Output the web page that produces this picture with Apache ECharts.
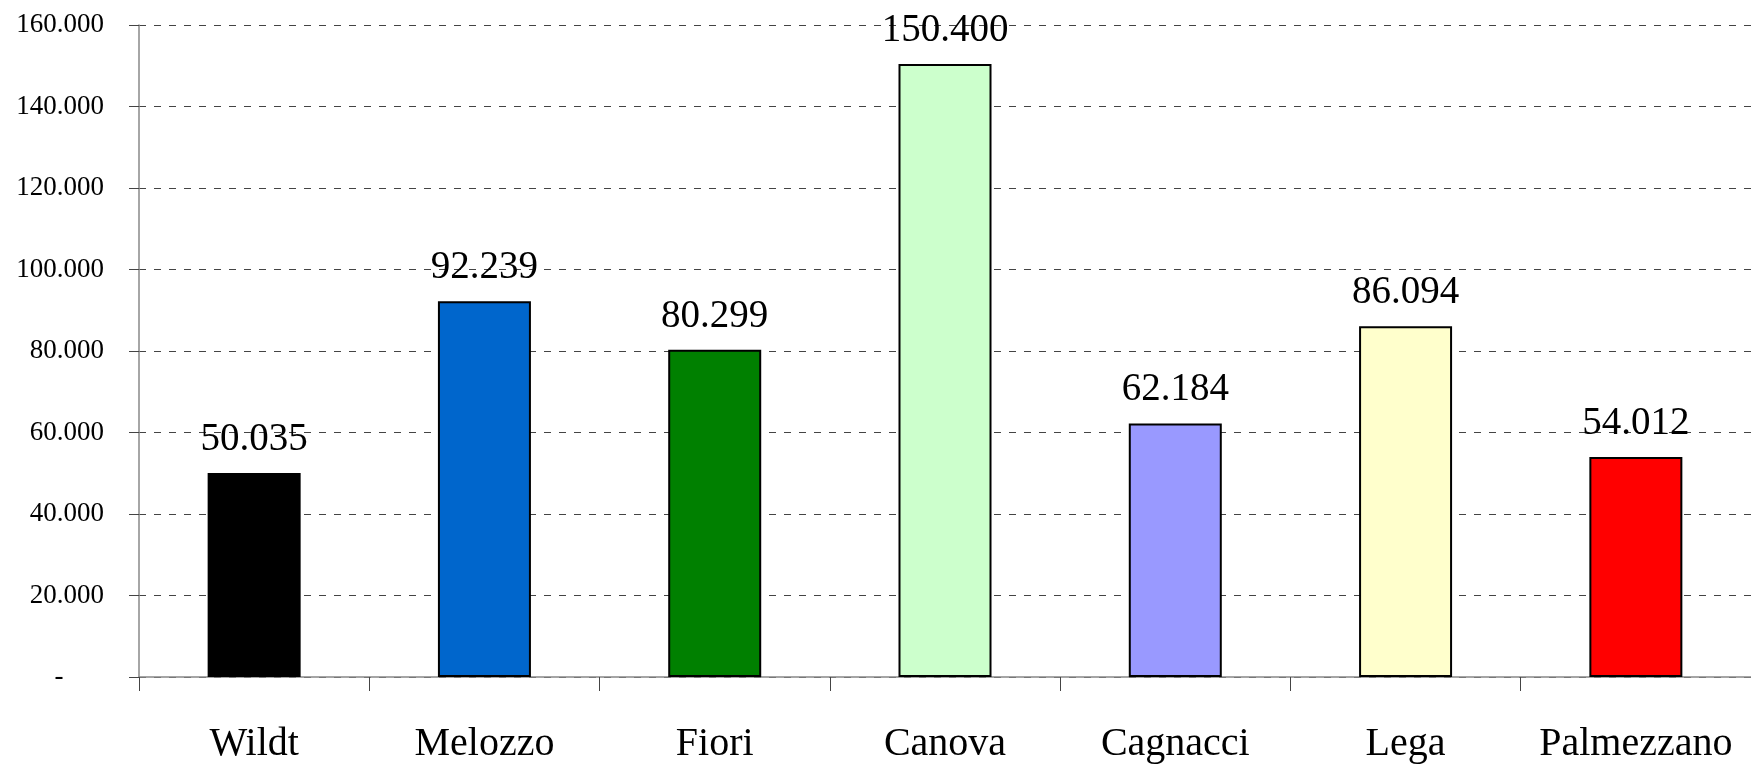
<!DOCTYPE html>
<html>
<head>
<meta charset="utf-8">
<script src="https://cdn.jsdelivr.net/npm/echarts@6/dist/echarts.min.js"></script>
<style>
  html, body { margin: 0; padding: 0; background: #fff; }
  #chart { width: 1751px; height: 768px; }
</style>
</head>
<body>
<div id="chart"></div>
<script>
// Chart data
const categories = ["Wildt", "Melozzo", "Fiori", "Canova", "Cagnacci", "Lega", "Palmezzano"];
const values = [50035, 92239, 80299, 150400, 62184, 86094, 54012];
const barColors = ["#000000", "#0066CC", "#008000", "#CCFFCC", "#9999FF", "#FFFFCC", "#FF0000"];

// Italian style thousands separator
function fmt(v) {
  return String(v).replace(/\B(?=(\d{3})+(?!\d))/g, ".");
}

const chart = echarts.init(document.getElementById("chart"));

chart.setOption({
  animation: false,
  grid: { left: 139, right: -12, top: 25, bottom: 91 },
  xAxis: {
    type: "category",
    data: categories,
    axisLine: { lineStyle: { color: "#888", width: 1.5 } },
    axisTick: { show: true, interval: 0, alignWithLabel: false, length: 14, lineStyle: { color: "#444" } },
    axisLabel: {
      interval: 0,
      color: "#000",
      fontFamily: "Liberation Serif",
      fontSize: 40,
      margin: 47,
    },
  },
  yAxis: {
    type: "value",
    min: 0,
    max: 160000,
    interval: 20000,
    axisLine: { show: true, lineStyle: { color: "#888", width: 1.5 } },
    axisTick: { show: true, inside: false, length: 10, lineStyle: { color: "#444" } },
    axisLabel: {
      color: "#000",
      fontFamily: "Liberation Serif",
      fontSize: 27,
      margin: 35,
      formatter: (v) => (v === 0 ? "-      " : fmt(v)),
    },
    splitLine: {
      lineStyle: { color: "#444", type: [7, 8], width: 1 },
    },
  },
  series: [
    {
      type: "bar",
      barWidth: 93,
      data: values.map((v, i) => ({
        value: v,
        itemStyle: { color: barColors[i] },
      })),
      itemStyle: { borderColor: "#000", borderWidth: 2 },
      label: {
        show: true,
        position: "top",
        distance: 14,
        color: "#000",
        fontFamily: "Liberation Serif",
        fontSize: 39,
        formatter: (p) => fmt(p.value),
      },
    },
  ],
});

window.addEventListener("resize", () => chart.resize());
</script>
</body>
</html>
